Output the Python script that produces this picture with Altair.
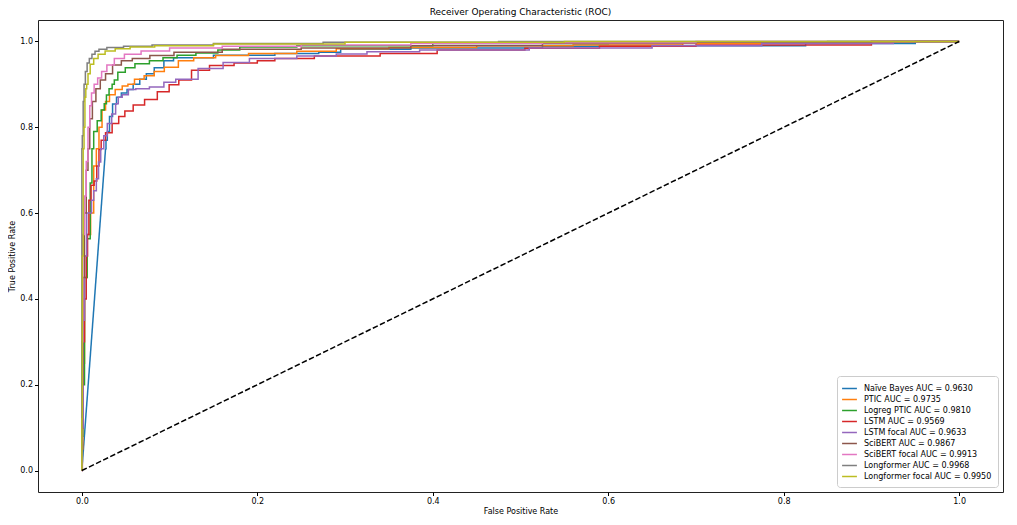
import altair as alt
import pandas as pd

series_names = [
    "Naïve Bayes AUC = 0.9630",
    "PTIC AUC = 0.9735",
    "Logreg PTIC AUC = 0.9810",
    "LSTM AUC = 0.9569",
    "LSTM focal AUC = 0.9633",
    "SciBERT AUC = 0.9867",
    "SciBERT focal AUC = 0.9913",
    "Longformer AUC = 0.9968",
    "Longformer focal AUC = 0.9950",
]
colors = ["#1f77b4", "#ff7f0e", "#2ca02c", "#d62728", "#9467bd",
          "#8c564b", "#e377c2", "#7f7f7f", "#bcbd22"]

nb_fpr = [0, 0.027, 0.028, 0.03, 0.033, 0.037, 0.042, 0.048, 0.055, 0.062, 0.07, 0.077, 0.088, 0.099, 0.11, 0.19, 0.25, 0.29, 0.3, 0.45, 0.6, 0.75, 0.9, 1]
nb_tpr = [0, 0.75, 0.77, 0.79, 0.825, 0.854, 0.87, 0.88, 0.888, 0.9, 0.912, 0.925, 0.939, 0.955, 0.962, 0.968, 0.972, 0.975, 0.982, 0.985, 0.989, 0.99, 0.995, 1]

ptic_fpr = [0, 0, 0.002, 0.004, 0.008, 0.012, 0.015, 0.018, 0.021, 0.025, 0.029, 0.034, 0.042, 0.05, 0.055, 0.065, 0.077, 0.088, 0.1, 0.12, 0.135, 0.17, 0.21, 0.28, 0.3, 0.4, 0.5, 0.62, 0.75, 0.9, 1]
ptic_tpr = [0, 0.05, 0.25, 0.45, 0.55, 0.6, 0.71, 0.75, 0.8, 0.84, 0.86, 0.876, 0.888, 0.896, 0.9, 0.912, 0.92, 0.93, 0.94, 0.955, 0.962, 0.967, 0.972, 0.977, 0.983, 0.986, 0.99, 0.992, 0.996, 0.999, 1]

logreg_fpr = [0, 0, 0.002, 0.004, 0.008, 0.011, 0.012, 0.015, 0.02, 0.024, 0.027, 0.029, 0.033, 0.036, 0.038, 0.044, 0.055, 0.066, 0.088, 0.097, 0.12, 0.14, 0.17, 0.19, 0.3, 0.5, 0.7, 1]
logreg_tpr = [0, 0.08, 0.2, 0.45, 0.54, 0.67, 0.75, 0.79, 0.815, 0.84, 0.855, 0.875, 0.89, 0.9, 0.91, 0.928, 0.939, 0.948, 0.955, 0.962, 0.968, 0.973, 0.98, 0.987, 0.99, 0.995, 0.998, 1]

lstm_fpr = [0, 0.001, 0.002, 0.004, 0.006, 0.007, 0.009, 0.012, 0.016, 0.018, 0.021, 0.023, 0.031, 0.038, 0.046, 0.052, 0.065, 0.078, 0.094, 0.105, 0.116, 0.134, 0.157, 0.19, 0.21, 0.23, 0.3, 0.38, 0.43, 0.58, 0.6, 0.8, 1]
lstm_tpr = [0, 0.1, 0.3, 0.4, 0.5, 0.55, 0.63, 0.665, 0.675, 0.71, 0.748, 0.77, 0.787, 0.809, 0.825, 0.838, 0.852, 0.865, 0.883, 0.899, 0.91, 0.933, 0.944, 0.95, 0.955, 0.96, 0.966, 0.972, 0.98, 0.984, 0.989, 0.992, 1]

lstmf_fpr = [0, 0.001, 0.002, 0.004, 0.007, 0.01, 0.012, 0.015, 0.018, 0.02, 0.023, 0.027, 0.031, 0.037, 0.04, 0.043, 0.049, 0.057, 0.066, 0.088, 0.099, 0.115, 0.15, 0.172, 0.21, 0.28, 0.3, 0.35, 0.42, 0.6, 0.7, 0.85, 1]
lstmf_tpr = [0, 0.1, 0.35, 0.5, 0.6, 0.6, 0.63, 0.652, 0.68, 0.719, 0.75, 0.78, 0.809, 0.831, 0.855, 0.87, 0.876, 0.888, 0.89, 0.894, 0.905, 0.912, 0.937, 0.951, 0.96, 0.966, 0.971, 0.976, 0.98, 0.985, 0.99, 0.995, 1]

scibert_fpr = [0, 0, 0.002, 0.004, 0.006, 0.008, 0.01, 0.014, 0.018, 0.024, 0.03, 0.04, 0.05, 0.065, 0.09, 0.12, 0.2, 0.3, 0.45, 0.6, 0.8, 1]
scibert_tpr = [0, 0.2, 0.45, 0.6, 0.7, 0.75, 0.82, 0.86, 0.89, 0.91, 0.925, 0.945, 0.955, 0.96, 0.967, 0.975, 0.982, 0.985, 0.99, 0.995, 0.998, 1]

scibertf_fpr = [0, 0, 0.002, 0.004, 0.006, 0.008, 0.01, 0.012, 0.016, 0.02, 0.025, 0.032, 0.042, 0.055, 0.08, 0.12, 0.2, 0.3, 0.45, 0.6, 0.8, 1]
scibertf_tpr = [0, 0.3, 0.55, 0.64, 0.72, 0.8, 0.85, 0.88, 0.9, 0.915, 0.93, 0.945, 0.96, 0.97, 0.978, 0.985, 0.989, 0.992, 0.995, 0.997, 1, 1]

longf_fpr = [0, 0, 0.001, 0.002, 0.003, 0.005, 0.007, 0.01, 0.013, 0.017, 0.022, 0.035, 0.06, 0.1, 0.2, 0.35, 0.6, 1]
longf_tpr = [0, 0.75, 0.78, 0.86, 0.9, 0.93, 0.95, 0.96, 0.97, 0.977, 0.982, 0.986, 0.989, 0.992, 0.995, 0.998, 1, 1]

longff_fpr = [0, 0, 0.001, 0.002, 0.003, 0.004, 0.005, 0.006, 0.008, 0.011, 0.016, 0.021, 0.032, 0.044, 0.066, 0.1, 0.2, 0.4, 0.7, 1]
longff_tpr = [0, 0.12, 0.5, 0.75, 0.8, 0.87, 0.89, 0.9, 0.925, 0.947, 0.96, 0.97, 0.978, 0.983, 0.987, 0.99, 0.994, 0.998, 1, 1]

diag_x = [0.0, 1.0]
diag_y = [0.0, 1.0]

tick_values = [0.0, 0.2, 0.4, 0.6, 0.8, 1.0]

curves = [
    (nb_fpr[1:], nb_tpr[1:]), (ptic_fpr, ptic_tpr), (logreg_fpr, logreg_tpr),
    (lstm_fpr, lstm_tpr), (lstmf_fpr, lstmf_tpr), (scibert_fpr, scibert_tpr),
    (scibertf_fpr, scibertf_tpr), (longf_fpr, longf_tpr), (longff_fpr, longff_tpr),
]

rows = []
for name, (fx, ty) in zip(series_names, curves):
    for j, (a, b) in enumerate(zip(fx, ty)):
        rows.append({"model": name, "fpr": a, "tpr": b, "idx": j})
df = pd.DataFrame(rows)

# Naive Bayes starts with a straight (linear) segment
nb_start = pd.DataFrame({"model": series_names[0], "fpr": nb_fpr[:2],
                         "tpr": nb_tpr[:2], "idx": [0, 1]})
diag_df = pd.DataFrame({"fpr": diag_x, "tpr": diag_y})

FONT = "DejaVu Sans"
x_scale = alt.Scale(domain=[-0.05, 1.05], nice=False, zero=False)
y_scale = alt.Scale(domain=[-0.05, 1.05], nice=False, zero=False)

x_axis = alt.Axis(values=tick_values, format=".1f", title="False Positive Rate",
                  grid=False, domain=False, tickSize=3.5, tickColor="black",
                  labelPadding=2, titlePadding=2)
y_axis = alt.Axis(values=tick_values, format=".1f", title="True Positive Rate",
                  grid=False, domain=False, tickSize=3.5, tickColor="black",
                  labelPadding=2, titlePadding=3)

color_enc = alt.Color(
    "model:N", scale=alt.Scale(domain=series_names, range=colors),
    sort=series_names,
    legend=alt.Legend(title=None, orient="bottom-right", offset=5,
                      fillColor="white", strokeColor="#cccccc",
                      padding=6, cornerRadius=3,
                      symbolType="M-1.3,0H1.3", symbolStrokeWidth=1.5,
                      symbolSize=130, rowPadding=0,
                      labelFontSize=8, labelFont=FONT, labelOffset=8,
                      labelColor="black"),
)

nb_line = alt.Chart(nb_start).mark_line(strokeWidth=1.5).encode(
    x=alt.X("fpr:Q", scale=x_scale, axis=x_axis),
    y=alt.Y("tpr:Q", scale=y_scale, axis=y_axis),
    color=color_enc,
    order="idx:Q",
)

lines = alt.Chart(df).mark_line(strokeWidth=1.5, interpolate="step").encode(
    x=alt.X("fpr:Q", scale=x_scale, axis=x_axis),
    y=alt.Y("tpr:Q", scale=y_scale, axis=y_axis),
    color=color_enc,
    order="idx:Q",
)

diag = alt.Chart(diag_df).mark_line(color="black", strokeDash=[5.5, 2.4], strokeWidth=1.5).encode(
    x=alt.X("fpr:Q", scale=x_scale),
    y=alt.Y("tpr:Q", scale=y_scale),
)

chart = alt.layer(nb_line, lines, diag).properties(
    width=965,
    height=472,
    padding={"left": 0, "top": 0, "right": 2, "bottom": 2},
    title=alt.Title("Receiver Operating Characteristic (ROC)", fontSize=9,
                    fontWeight="normal", font=FONT, color="black", offset=3),
).configure_view(stroke="#222222", strokeWidth=1).configure_axis(
    labelFont=FONT, titleFont=FONT, labelFontSize=8, titleFontSize=8,
    titleFontWeight="normal", labelColor="black", titleColor="black",
)

chart.save("out.html", embed_options={"renderer": "svg", "actions": False})
